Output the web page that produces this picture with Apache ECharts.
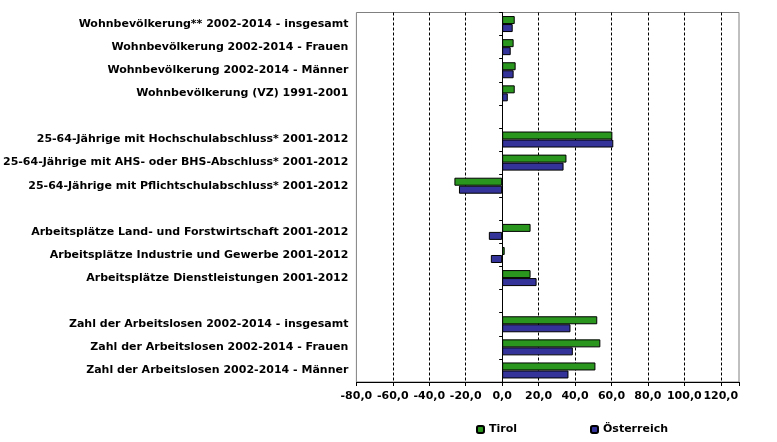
<!DOCTYPE html>
<html>
<head>
<meta charset="utf-8">
<script src="https://cdn.jsdelivr.net/npm/echarts@6/dist/echarts.min.js"></script>
<style>html,body{margin:0;padding:0;background:#fff}#c{width:777px;height:442px}</style>
</head>
<body>
<div id="c"></div>
<script>
var categories = [
  'Wohnbevölkerung** 2002-2014 - insgesamt',
  'Wohnbevölkerung 2002-2014 - Frauen',
  'Wohnbevölkerung 2002-2014 - Männer',
  'Wohnbevölkerung (VZ) 1991-2001',
  ' ',
  '25-64-Jährige mit Hochschulabschluss* 2001-2012',
  '25-64-Jährige mit AHS- oder BHS-Abschluss* 2001-2012',
  '25-64-Jährige mit Pflichtschulabschluss* 2001-2012',
  '  ',
  'Arbeitsplätze Land- und Forstwirtschaft 2001-2012',
  'Arbeitsplätze Industrie und Gewerbe 2001-2012',
  'Arbeitsplätze Dienstleistungen 2001-2012',
  '   ',
  'Zahl der Arbeitslosen 2002-2014 - insgesamt',
  'Zahl der Arbeitslosen 2002-2014 - Frauen',
  'Zahl der Arbeitslosen 2002-2014 - Männer'
];
var tirol = [6.9, 6.3, 7.4, 6.9, null, 60.5, 35.3, -26.2, null, 15.6, 1.4, 15.6, null, 52.2, 53.9, 51.2];
var oesterreich = [5.8, 4.7, 6.3, 3.1, null, 61.0, 33.7, -23.7, null, -7.3, -6.2, 18.9, null, 37.5, 38.8, 36.4];
var seriesNames = ['Tirol', 'Österreich'];
var xMin = -80, xMax = 130, xStep = 20;

var FONT = 'DejaVu Sans';
var chart = echarts.init(document.getElementById('c'));
chart.setOption({
  animation: false,
  backgroundColor: '#fff',
  grid: {left: 355, right: 38, top: 12.5, bottom: 60, show: true, borderColor: '#808080', borderWidth: 1},
  legend: [
    {data: [seriesNames[0]], left: 471, top: 419, itemWidth: 7, itemHeight: 7, itemGap: 4,
     textStyle: {fontFamily: FONT, fontWeight: 'bold', fontSize: 11, color: '#000'}},
    {data: [seriesNames[1]], left: 585, top: 419, itemWidth: 7, itemHeight: 7, itemGap: 4,
     textStyle: {fontFamily: FONT, fontWeight: 'bold', fontSize: 11, color: '#000'}}
  ],
  xAxis: {
    type: 'value', min: xMin, max: xMax, interval: xStep,
    axisLine: {show: true, onZero: false, lineStyle: {color: '#000', width: 1}},
    axisTick: {show: true, length: 4, lineStyle: {color: '#000'}},
    axisLabel: {
      margin: 9, color: '#000', fontFamily: FONT, fontWeight: 'bold', fontSize: 11,
      formatter: function (v) { return v > 120 ? '' : v.toFixed(1).replace('.', ','); }
    },
    splitLine: {show: true, showMinLine: false, showMaxLine: false, lineStyle: {color: '#000', type: [3, 2], width: 1}}
  },
  yAxis: [
    {
      type: 'category', data: categories, inverse: true,
      axisLine: {show: false, onZero: false},
      axisTick: {show: false},
      axisLabel: {margin: 8, color: '#000', fontFamily: FONT, fontWeight: 'bold', fontSize: 11}
    },
    {
      type: 'category', data: categories, inverse: true, position: 'left',
      axisLine: {show: true, onZero: true, lineStyle: {color: '#000', width: 1}},
      axisTick: {show: true, length: 3, lineStyle: {color: '#000'}},
      axisLabel: {show: false}
    }
  ],
  series: [
    {name: seriesNames[0], type: 'bar', data: tirol, barWidth: 8, barGap: '0%',
     itemStyle: {color: '#2A961E', borderColor: '#000', borderWidth: 1}},
    {name: seriesNames[1], type: 'bar', data: oesterreich, barWidth: 8, barGap: '0%',
     itemStyle: {color: '#333399', borderColor: '#000', borderWidth: 1}}
  ]
});
</script>
</body>
</html>
